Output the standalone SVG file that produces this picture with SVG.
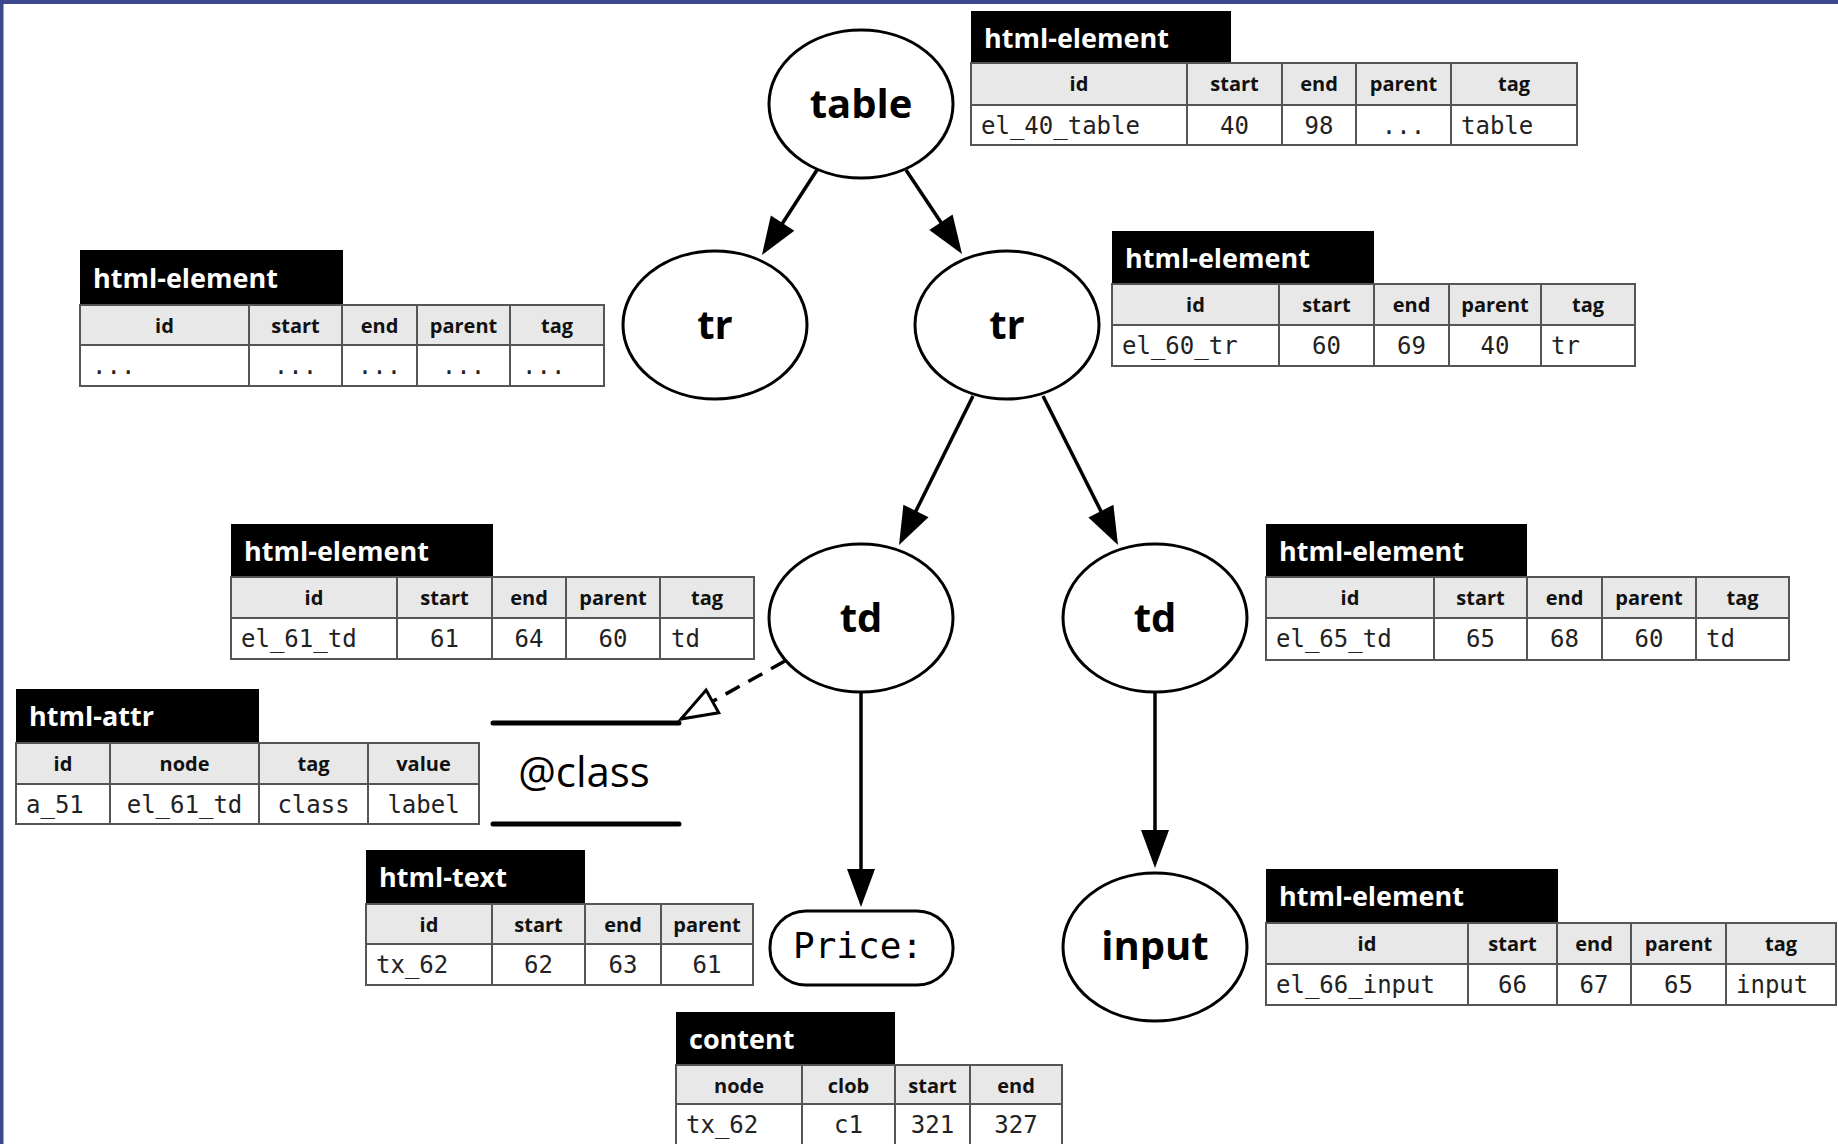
<svg xmlns="http://www.w3.org/2000/svg" width="1838" height="1144" viewBox="0 0 1838 1144">
<style>
.tab{fill:#000}
.tabt{fill:#fff;font-family:"Open Sans","Noto Sans",sans-serif;font-weight:700;font-size:27px}
.hdr{fill:#e8e8e8;stroke:#555;stroke-width:2}
.dat{fill:#fff;stroke:#555;stroke-width:2}
.grid{fill:none;stroke:#555;stroke-width:2}
.th{font-family:"Open Sans","Noto Sans",sans-serif;font-weight:700;font-size:20px;fill:#111;text-anchor:middle}
.td{font-family:"DejaVu Sans Mono","Liberation Mono",monospace;font-size:24px;fill:#222}
.c{text-anchor:middle}
.node{fill:#fff;stroke:#000;stroke-width:3}
.nl{font-family:"Open Sans","Noto Sans",sans-serif;font-weight:700;font-size:40px;fill:#000;text-anchor:middle}
.edge{fill:none;stroke:#000;stroke-width:3.5}
.dash{fill:none;stroke:#000;stroke-width:3.5;stroke-dasharray:16 10}
</style>
<defs>
<marker id="arr" markerUnits="userSpaceOnUse" markerWidth="40" markerHeight="30" refX="30" refY="14" orient="auto" overflow="visible"><path d="M0,0L38,14L0,28z" fill="#000"/></marker>
<marker id="open" markerUnits="userSpaceOnUse" markerWidth="40" markerHeight="30" refX="36" refY="13" orient="auto" overflow="visible"><path d="M0,0L36,13L0,26z" fill="#fff" stroke="#000" stroke-width="3" stroke-linejoin="miter"/></marker>
</defs>
<rect x="0" y="0" width="1838" height="1144" fill="#fff"/>
<path d="M0,0H1838V4H3.5V1144H0z" fill="#3b4a8e"/>

<g id="edges">
<path class="edge" d="M817,170L766.3,248.3" marker-end="url(#arr)"/>
<path class="edge" d="M906,170L957.6,247.3" marker-end="url(#arr)"/>
<path class="edge" d="M973,396L902.6,537.8" marker-end="url(#arr)"/>
<path class="edge" d="M1043,396L1114.4,537.9" marker-end="url(#arr)"/>
<path class="edge" d="M861,693L861,899" marker-end="url(#arr)"/>
<path class="edge" d="M1155,693L1155,860" marker-end="url(#arr)"/>
<path class="dash" d="M785,661L681,719" marker-end="url(#open)"/>
</g>

<g id="n-table"><ellipse class="node" cx="861" cy="104" rx="92" ry="74"/><text class="nl" x="861" y="118">table</text></g>
<g id="n-tr1"><ellipse class="node" cx="715" cy="325" rx="92" ry="74"/><text class="nl" x="715" y="339">tr</text></g>
<g id="n-tr2"><ellipse class="node" cx="1007" cy="325" rx="92" ry="74"/><text class="nl" x="1007" y="339">tr</text></g>
<g id="n-td1"><ellipse class="node" cx="861" cy="618" rx="92" ry="74"/><text class="nl" x="861" y="632">td</text></g>
<g id="n-td2"><ellipse class="node" cx="1155" cy="618" rx="92" ry="74"/><text class="nl" x="1155" y="632">td</text></g>
<g id="n-input"><ellipse class="node" cx="1155" cy="947" rx="92" ry="74"/><text class="nl" x="1155" y="960">input</text></g>
<g id="n-price"><rect class="node" x="770" y="911" width="183" height="74" rx="36" ry="36"/><text x="858" y="958" text-anchor="middle" font-family="DejaVu Sans Mono, Liberation Mono, monospace" font-size="36" fill="#000">Price:</text></g>
<g id="n-class">
<path d="M493,723H679M493,824H679" fill="none" stroke="#000" stroke-width="5" stroke-linecap="round"/>
<text x="584" y="787" text-anchor="middle" font-family="Open Sans, Noto Sans, sans-serif" font-size="42" fill="#000">@class</text>
</g>

<g id="t-el40">
<rect class="tab" x="971" y="11" width="260" height="52"/>
<text class="tabt" x="984" y="48">html-element</text>
<rect class="hdr" x="971" y="63" width="606" height="42"/>
<rect class="dat" x="971" y="105" width="606" height="40"/>
<path class="grid" d="M1187,63V145M1282,63V145M1356,63V145M1451,63V145"/>
<text class="th" x="1079" y="91">id</text><text class="th" x="1234.5" y="91">start</text><text class="th" x="1319" y="91">end</text><text class="th" x="1403.5" y="91">parent</text><text class="th" x="1514" y="91">tag</text>
<text class="td" x="981" y="134">el_40_table</text><text class="td c" x="1234.5" y="134">40</text><text class="td c" x="1319" y="134">98</text><text class="td c" x="1403.5" y="134">...</text><text class="td" x="1461" y="134">table</text>
</g>

<g id="t-el60">
<rect class="tab" x="1112" y="231" width="262" height="53"/>
<text class="tabt" x="1125" y="268">html-element</text>
<rect class="hdr" x="1112" y="284" width="523" height="41"/>
<rect class="dat" x="1112" y="325" width="523" height="41"/>
<path class="grid" d="M1279,284V366M1374,284V366M1449,284V366M1541,284V366"/>
<text class="th" x="1195.5" y="312">id</text><text class="th" x="1326.5" y="312">start</text><text class="th" x="1411.5" y="312">end</text><text class="th" x="1495" y="312">parent</text><text class="th" x="1588" y="312">tag</text>
<text class="td" x="1122" y="354">el_60_tr</text><text class="td c" x="1326.5" y="354">60</text><text class="td c" x="1411.5" y="354">69</text><text class="td c" x="1495" y="354">40</text><text class="td" x="1551" y="354">tr</text>
</g>

<g id="t-dots">
<rect class="tab" x="80" y="250" width="263" height="55"/>
<text class="tabt" x="93" y="288">html-element</text>
<rect class="hdr" x="80" y="305" width="524" height="40"/>
<rect class="dat" x="80" y="345" width="524" height="41"/>
<path class="grid" d="M249,305V386M342,305V386M417,305V386M510,305V386"/>
<text class="th" x="164.5" y="333">id</text><text class="th" x="295.5" y="333">start</text><text class="th" x="379.5" y="333">end</text><text class="th" x="463.5" y="333">parent</text><text class="th" x="557" y="333">tag</text>
<text class="td" x="92" y="374">...</text><text class="td c" x="295.5" y="374">...</text><text class="td c" x="379.5" y="374">...</text><text class="td c" x="463.5" y="374">...</text><text class="td" x="522" y="374">...</text>
</g>

<g id="t-el61">
<rect class="tab" x="231" y="524" width="262" height="53"/>
<text class="tabt" x="244" y="561">html-element</text>
<rect class="hdr" x="231" y="577" width="523" height="41"/>
<rect class="dat" x="231" y="618" width="523" height="41"/>
<path class="grid" d="M397,577V659M492,577V659M566,577V659M660,577V659"/>
<text class="th" x="314" y="605">id</text><text class="th" x="444.5" y="605">start</text><text class="th" x="529" y="605">end</text><text class="th" x="613" y="605">parent</text><text class="th" x="707" y="605">tag</text>
<text class="td" x="241" y="647">el_61_td</text><text class="td c" x="444.5" y="647">61</text><text class="td c" x="529" y="647">64</text><text class="td c" x="613" y="647">60</text><text class="td" x="671" y="647">td</text>
</g>

<g id="t-attr">
<rect class="tab" x="16" y="689" width="243" height="54"/>
<text class="tabt" x="29" y="726">html-attr</text>
<rect class="hdr" x="16" y="743" width="463" height="41"/>
<rect class="dat" x="16" y="784" width="463" height="40"/>
<path class="grid" d="M110,743V824M259,743V824M368,743V824"/>
<text class="th" x="63" y="771">id</text><text class="th" x="184.5" y="771">node</text><text class="th" x="313.5" y="771">tag</text><text class="th" x="423.5" y="771">value</text>
<text class="td" x="26" y="813">a_51</text><text class="td c" x="184.5" y="813">el_61_td</text><text class="td c" x="313.5" y="813">class</text><text class="td c" x="423.5" y="813">label</text>
</g>

<g id="t-el65">
<rect class="tab" x="1266" y="524" width="261" height="53"/>
<text class="tabt" x="1279" y="561">html-element</text>
<rect class="hdr" x="1266" y="577" width="523" height="41"/>
<rect class="dat" x="1266" y="618" width="523" height="42"/>
<path class="grid" d="M1434,577V660M1527,577V660M1602,577V660M1696,577V660"/>
<text class="th" x="1350" y="605">id</text><text class="th" x="1480.5" y="605">start</text><text class="th" x="1564.5" y="605">end</text><text class="th" x="1649" y="605">parent</text><text class="th" x="1742.5" y="605">tag</text>
<text class="td" x="1276" y="647">el_65_td</text><text class="td c" x="1480.5" y="647">65</text><text class="td c" x="1564.5" y="647">68</text><text class="td c" x="1649" y="647">60</text><text class="td" x="1706" y="647">td</text>
</g>

<g id="t-el66">
<rect class="tab" x="1266" y="869" width="292" height="54"/>
<text class="tabt" x="1279" y="906">html-element</text>
<rect class="hdr" x="1266" y="923" width="570" height="41"/>
<rect class="dat" x="1266" y="964" width="570" height="41"/>
<path class="grid" d="M1468,923V1005M1557,923V1005M1631,923V1005M1726,923V1005"/>
<text class="th" x="1367" y="951">id</text><text class="th" x="1512.5" y="951">start</text><text class="th" x="1594" y="951">end</text><text class="th" x="1678.5" y="951">parent</text><text class="th" x="1781" y="951">tag</text>
<text class="td" x="1276" y="993">el_66_input</text><text class="td c" x="1512.5" y="993">66</text><text class="td c" x="1594" y="993">67</text><text class="td c" x="1678.5" y="993">65</text><text class="td" x="1736" y="993">input</text>
</g>

<g id="t-text">
<rect class="tab" x="366" y="850" width="219" height="54"/>
<text class="tabt" x="379" y="887">html-text</text>
<rect class="hdr" x="366" y="904" width="387" height="40"/>
<rect class="dat" x="366" y="944" width="387" height="41"/>
<path class="grid" d="M492,904V985M585,904V985M661,904V985"/>
<text class="th" x="429" y="932">id</text><text class="th" x="538.5" y="932">start</text><text class="th" x="623" y="932">end</text><text class="th" x="707" y="932">parent</text>
<text class="td" x="376" y="973">tx_62</text><text class="td c" x="538.5" y="973">62</text><text class="td c" x="623" y="973">63</text><text class="td c" x="707" y="973">61</text>
</g>

<g id="t-content">
<rect class="tab" x="676" y="1012" width="219" height="53"/>
<text class="tabt" x="689" y="1049">content</text>
<rect class="hdr" x="676" y="1065" width="386" height="39"/>
<rect class="dat" x="676" y="1104" width="386" height="42"/>
<path class="grid" d="M802,1065V1146M895,1065V1146M970,1065V1146"/>
<text class="th" x="739" y="1093">node</text><text class="th" x="848.5" y="1093">clob</text><text class="th" x="932.5" y="1093">start</text><text class="th" x="1016" y="1093">end</text>
<text class="td" x="686" y="1133">tx_62</text><text class="td c" x="848.5" y="1133">c1</text><text class="td c" x="932.5" y="1133">321</text><text class="td c" x="1016" y="1133">327</text>
</g>
</svg>
